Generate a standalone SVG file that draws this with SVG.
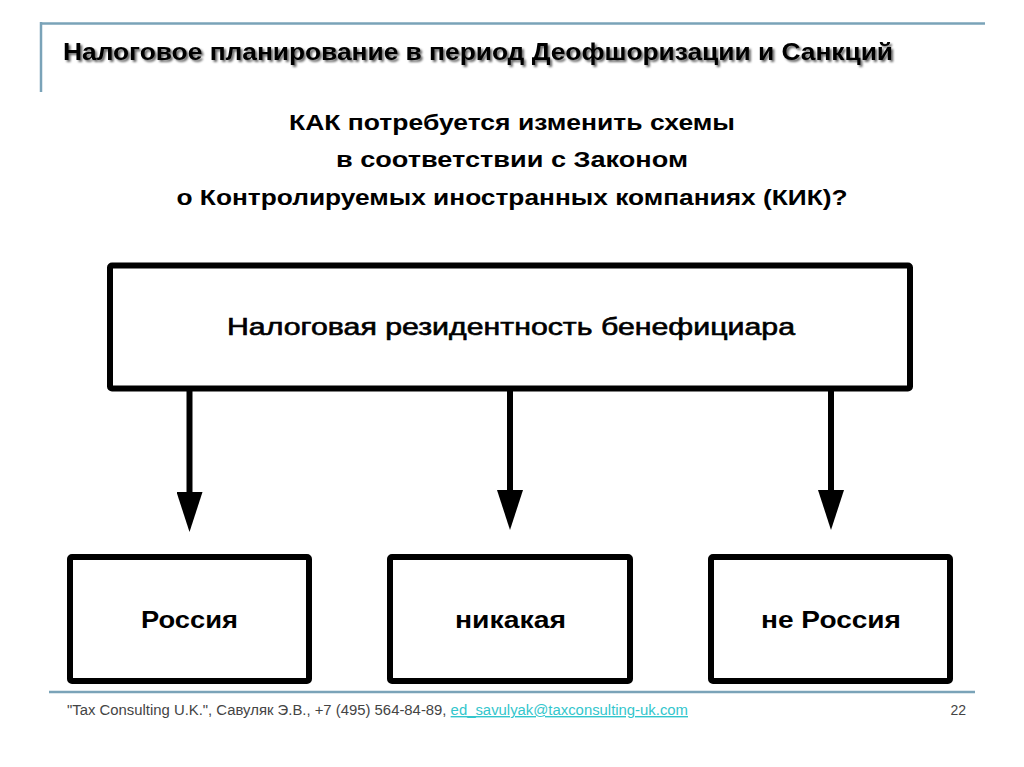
<svg xmlns="http://www.w3.org/2000/svg" width="1024" height="767" viewBox="0 0 1024 767">
<defs>
<style>
.box{fill:#fff;stroke:#000;stroke-width:6;stroke-linejoin:round}
.lbl{font-family:"Liberation Sans","DejaVu Sans",sans-serif;font-size:24px;fill:#000;text-anchor:middle}
.hdr{font-family:"Liberation Sans","DejaVu Sans",sans-serif;font-weight:bold;fill:#000}
.rule{stroke:#7aa3b8;stroke-width:2.5;fill:none}
.conn{stroke:#000;stroke-width:6;fill:none}
.foot{font-family:"Liberation Sans","DejaVu Sans",sans-serif;font-size:14px;fill:#444}
</style>
<filter id="sh" x="-5%" y="-30%" width="110%" height="160%">
<feDropShadow dx="2" dy="2" stdDeviation="1" flood-color="#000" flood-opacity="0.6"/>
</filter>
<marker id="ah" viewBox="0 0 40 26" refX="0" refY="13" markerWidth="40" markerHeight="26" markerUnits="userSpaceOnUse" orient="auto">
<path d="M0,0 L40,13 L0,26 Z" fill="#000"/>
</marker>
</defs>
<rect width="1024" height="767" fill="#fff"/>
<g id="frame">
<line class="rule" x1="41" y1="23.5" x2="985" y2="23.5"/>
<line class="rule" x1="41" y1="22" x2="41" y2="92"/>
<line class="rule" x1="49" y1="692" x2="975" y2="692"/>
</g>
<g id="title">
<text class="hdr" x="63" y="60" font-size="24" textLength="830" lengthAdjust="spacingAndGlyphs" filter="url(#sh)">Налоговое планирование в период Деофшоризации и Санкций</text>
</g>
<g id="question" class="hdr" font-size="22" text-anchor="middle">
<text x="512" y="130" textLength="446" lengthAdjust="spacingAndGlyphs">КАК потребуется изменить схемы</text>
<text x="512" y="167" textLength="352" lengthAdjust="spacingAndGlyphs">в соответствии с Законом</text>
<text x="512" y="205" textLength="671" lengthAdjust="spacingAndGlyphs">о Контролируемых иностранных компаниях (КИК)?</text>
</g>
<g id="node-residency">
<rect class="box" x="110" y="265.5" width="800" height="123" rx="2"/>
<text class="lbl" x="511" y="335" stroke="#000" stroke-width="0.6" textLength="568" lengthAdjust="spacingAndGlyphs">Налоговая резидентность бенефициара</text>
</g>
<g id="node-russia">
<rect class="box" x="70" y="557" width="239" height="124" rx="2"/>
<text class="lbl" x="189.5" y="628" font-weight="bold" textLength="97" lengthAdjust="spacingAndGlyphs">Россия</text>
</g>
<g id="node-none">
<rect class="box" x="390" y="557" width="240" height="124" rx="2"/>
<text class="lbl" x="510.5" y="628" font-weight="bold" textLength="111" lengthAdjust="spacingAndGlyphs">никакая</text>
</g>
<g id="node-notrussia">
<rect class="box" x="711" y="557" width="239" height="124" rx="2"/>
<text class="lbl" x="831" y="628" font-weight="bold" textLength="140" lengthAdjust="spacingAndGlyphs">не Россия</text>
</g>
<g id="connectors">
<line class="conn" x1="189.5" y1="391" x2="189.5" y2="492" marker-end="url(#ah)"/>
<line class="conn" x1="510" y1="391" x2="510" y2="490" marker-end="url(#ah)"/>
<line class="conn" x1="831" y1="391" x2="831" y2="490" marker-end="url(#ah)"/>
</g>
<g id="footer">
<text class="foot" x="67" y="715" textLength="621" lengthAdjust="spacingAndGlyphs">"Tax Consulting U.K.", Савуляк Э.В., +7 (495) 564-84-89, <tspan fill="#33c6cc" text-decoration="underline">ed_savulyak@taxconsulting-uk.com</tspan></text>
<text class="foot" x="966" y="715" text-anchor="end">22</text>
</g>
</svg>
